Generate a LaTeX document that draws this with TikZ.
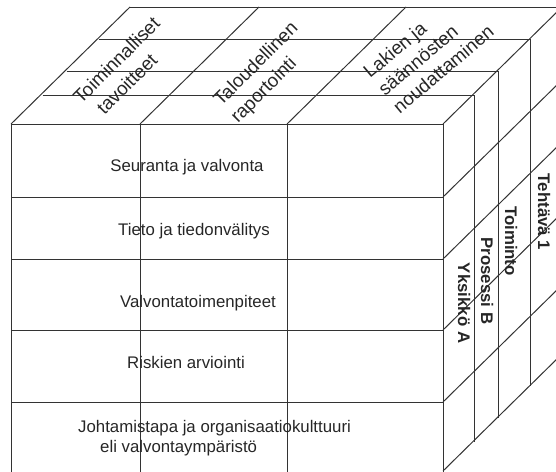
\documentclass[tikz,border=0pt]{standalone}
\usepackage{fontspec}
\setmainfont{Liberation Sans}
\begin{document}
\begin{tikzpicture}[x=1pt,y=-1pt]
\tikzset{
  edge/.style={draw=black!80, line width=1pt},
  frontlabel/.style={font=\fontsize{16.8}{20}\selectfont, text=black!85, inner sep=0pt, anchor=base},
  toplabel/.style={font=\fontsize{18.8}{24}\selectfont, text=black!85, inner sep=0pt, rotate=45, align=left, anchor=north west},
  sidelabel/.style={font=\fontsize{16.8}{20}\selectfont\bfseries, text=black!85, inner sep=0pt, rotate=-90, anchor=center},
}
\useasboundingbox (0,0) rectangle (556,471);
\clip (0,0) rectangle (556,471);

% front face (bottom edge lies just below the picture)
\draw[edge] (11,473) -- (11,124) -- (443,124) -- (443,473);
\foreach \y in {197,259,330,402} \draw[edge] (11,\y) -- (443,\y);
\foreach \x in {140,287} \draw[edge] (\x,124) -- (\x,473);

% top face depth lines and right face verticals
\foreach \dx/\dy in {31.5/29,55.5/53,87.5/85,119/117} {
  \draw[edge] (11+\dx,124-\dy) -- (443+\dx,124-\dy);
  \draw[edge] (443+\dx,124-\dy) -- (443+\dx,471-\dy);
}
% top face diagonals
\foreach \x in {11,140,287,443} \draw[edge] (\x,124) -- ++(119,-117);
% right face diagonals
\foreach \y in {197,259,330,402,471} \draw[edge] (443,\y) -- ++(119,-117);

% top labels
\node[toplabel] (ops) at (71.3,95.3) {Toiminnalliset\\\hspace*{9pt}tavoitteet};
\node[toplabel] (fin) at (211.3,97.3) {Taloudellinen\\raportointi};
\node[toplabel, rotate=-5, font=\fontsize{18.8}{23}\selectfont] (law) at (361.2,68.5) {Lakien ja\\säännösten\\noudattaminen};

% front labels
\node[frontlabel] (mon) at (187,171) {Seuranta ja valvonta};
\node[frontlabel] (inf) at (194,235) {Tieto ja tiedonvälitys};
\node[frontlabel] (act) at (198,307) {Valvontatoimenpiteet};
\node[frontlabel] (risk) at (186,368) {Riskien arviointi};
\node[frontlabel, align=left, anchor=north west] (env) at (78,419.8)
  {Johtamistapa ja organisaatiokulttuuri\\\hspace*{22pt}eli valvontaympäristö};

% side labels
\node[sidelabel] (task) at (544,212) {Tehtävä 1};
\node[sidelabel] (func) at (511,241) {Toiminto};
\node[sidelabel] (proc) at (487,281) {Prosessi B};
\node[sidelabel] (unit) at (464,303) {Yksikkö A};
\end{tikzpicture}
\end{document}
